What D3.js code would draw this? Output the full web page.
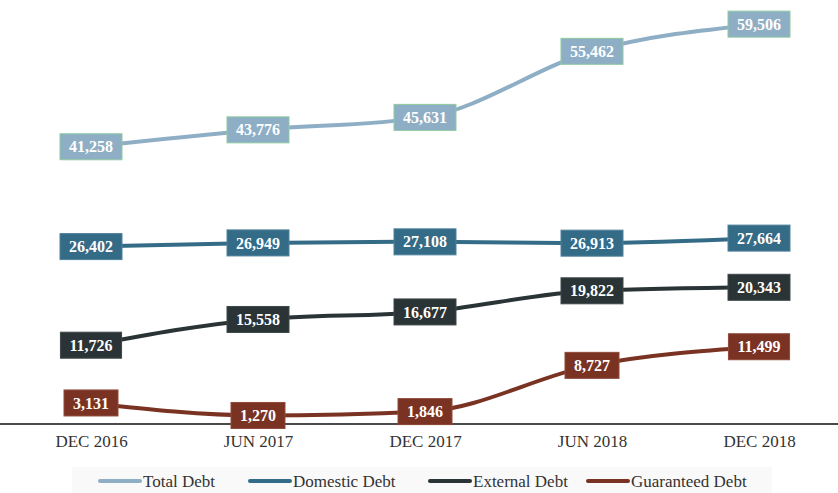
<!DOCTYPE html>
<html>
<head>
<meta charset="utf-8">
<script src="https://cdn.jsdelivr.net/npm/d3@7"></script>
<style>
  body { margin: 0; background: #fff; }
  svg { display: block; }
</style>
</head>
<body>
<div id="chart"></div>
<script>
// data
var periods = ["DEC 2016", "JUN 2017", "DEC 2017", "JUN 2018", "DEC 2018"];
var seriesNames = ["Total Debt", "Domestic Debt", "External Debt", "Guaranteed Debt"];
var totalDebt = [41258, 43776, 45631, 55462, 59506];
var domesticDebt = [26402, 26949, 27108, 26913, 27664];
var externalDebt = [11726, 15558, 16677, 19822, 20343];
var guaranteedDebt = [3131, 1270, 1846, 8727, 11499];

var colors = ["#8eaec5", "#346b87", "#2a3335", "#7a3323"];
var borders = ["#8ccb9f", "#4e819b", "#3f4849", "#8f4a3b"];

var series = [totalDebt, domesticDebt, externalDebt, guaranteedDebt].map(function(vals, i) {
  return { name: seriesNames[i], color: colors[i], border: borders[i],
    values: vals.map(function(v, j) { return { period: periods[j], value: v }; }) };
});

var width = 838, height = 493;

var svg = d3.select("#chart")
  .append("svg")
    .attr("width", width)
    .attr("height", height);

var x = d3.scalePoint()
  .domain(periods)
  .range([91, 759]);

var y = d3.scaleLinear()
  .domain([0, 63100])
  .range([424, 0]);

// x axis
var xAxis = svg.append("g")
  .attr("transform", "translate(0,424)")
  .call(d3.axisBottom(x).tickSize(0).tickPadding(11));
xAxis.select(".domain").remove();
xAxis.append("line")
  .attr("x1", 0).attr("x2", width)
  .attr("stroke", "#4a4a4a").attr("stroke-width", 2);
xAxis.selectAll("text")
  .attr("font-family", "'Liberation Serif', serif")
  .attr("font-size", 17)
  .attr("fill", "#333");

var line = d3.line()
  .curve(d3.curveMonotoneX)
  .x(function(d) { return x(d.period); })
  .y(function(d) { return y(d.value); });

var fmt = d3.format(",");

series.forEach(function(s) {
  svg.append("path")
    .datum(s.values)
    .attr("fill", "none")
    .attr("stroke", s.color)
    .attr("stroke-width", 4)
    .attr("d", line);
});

series.forEach(function(s) {
  var g = svg.append("g").selectAll("g")
    .data(s.values)
    .enter().append("g")
      .attr("transform", function(d) { return "translate(" + x(d.period) + "," + y(d.value) + ")"; });

  g.append("text")
    .attr("text-anchor", "middle")
    .attr("dy", "0.35em")
    .attr("font-family", "'Liberation Serif', serif")
    .attr("font-weight", "bold")
    .attr("font-size", 16)
    .attr("fill", "#fff")
    .text(function(d) { return fmt(d.value); });

  g.insert("rect", "text")
    .attr("x", function() { var w = this.parentNode.querySelector("text").getComputedTextLength(); return -w / 2 - 9; })
    .attr("width", function() { var w = this.parentNode.querySelector("text").getComputedTextLength(); return w + 18; })
    .attr("y", -13)
    .attr("height", 26)
    .attr("fill", s.color)
    .attr("stroke", s.border)
    .attr("stroke-width", 1);
});

// legend
var legendX = [100, 250, 430, 588];
var legend = svg.append("g");
legend.append("rect")
  .attr("x", 72).attr("y", 467)
  .attr("width", 700).attr("height", 26)
  .attr("fill", "#f9f9f9");

var items = legend.selectAll("g.item")
  .data(series)
  .enter().append("g")
    .attr("class", "item")
    .attr("transform", function(d, i) { return "translate(" + legendX[i] + ",481)"; });
items.append("line")
  .attr("x1", 0).attr("x2", 40)
  .attr("stroke", function(d) { return d.color; })
  .attr("stroke-width", 4)
  .attr("stroke-linecap", "round");
items.append("text")
  .attr("x", 43)
  .attr("dy", "0.35em")
  .attr("font-family", "'Liberation Serif', serif")
  .attr("font-size", 17)
  .attr("fill", "#333")
  .text(function(d) { return d.name; });
</script>
</body>
</html>
